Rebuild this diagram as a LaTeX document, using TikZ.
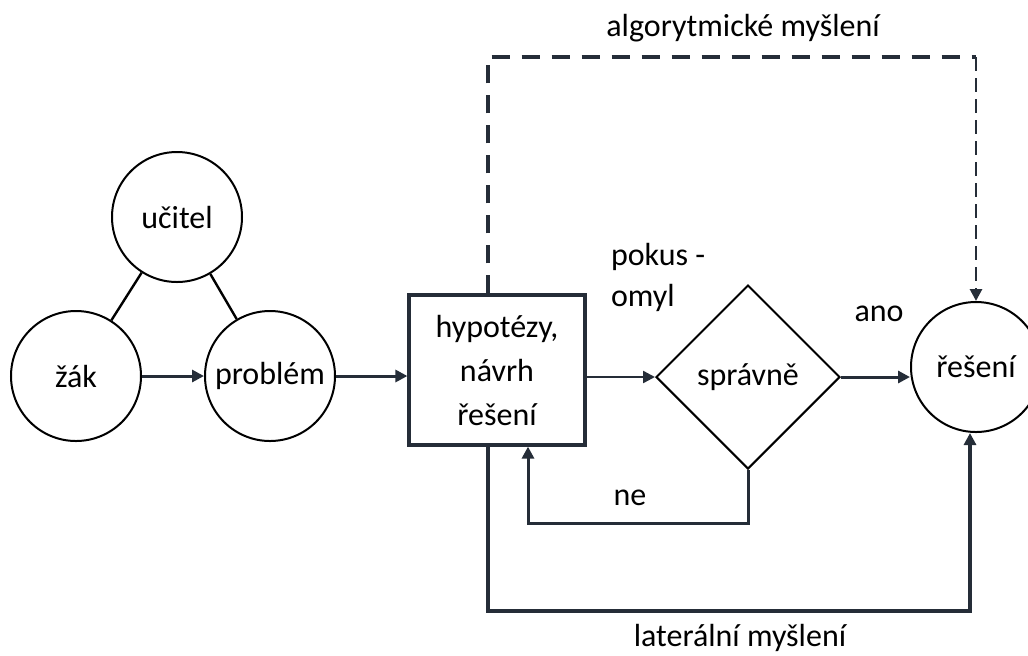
\documentclass[tikz,border=0pt]{standalone}
\usepackage{fontspec}
\setmainfont{Carlito}
\usepackage{tikz}
\usetikzlibrary{arrows.meta,shapes.geometric}
\definecolor{linka}{HTML}{252D38}

\begin{document}
\begin{tikzpicture}[x=0.5pt, y=-0.5pt,
  every node/.style={font=\fontsize{16}{22}\selectfont},
  kruh/.style={draw, shape=circle, line width=1pt, minimum size=65pt, inner sep=0pt},
  box/.style={draw=linka, line width=1.6pt, minimum width=88pt, minimum height=75pt, align=center, inner sep=0pt},
  kosoctverec/.style={draw, shape=diamond, line width=1pt, aspect=1, minimum size=92pt, inner sep=0pt},
  spoj/.style={draw=linka, line width=1.5pt, -{Triangle[length=6pt,width=6pt]}}]

\useasboundingbox (0,0) rectangle (1028,655);

\node[kruh] (ucitel) at (177,217) {učitel};
\node[kruh] (zak) at (76,376) {žák};
\node[kruh] (problem) at (270,376) {problém};
\node[box] (hyp) at (497,370) {hypotézy,\\návrh\\řešení};
\node[kosoctverec] (spravne) at (748,377) {správně};
\node[kruh] (reseni) at (976,367) {řešení};

\coordinate (algRoh) at (976,57);
\coordinate (neRoh) at (528,523);
\coordinate (latRoh) at (488,611);

\draw[line width=1.2pt] (ucitel) to (zak);
\draw[line width=1.2pt] (ucitel) to (problem);

\draw[spoj] (zak) to (problem);
\draw[spoj] (problem) to (problem -| hyp.west);
\draw[spoj, line width=1.2pt] (hyp.east |- spravne) to (spravne.west);
\draw[spoj] (spravne.east) to (spravne.east -| reseni.west);

% algoritmicka cesta
\draw[linka, line width=2pt, dash pattern=on 9pt off 6pt] ([xshift=-4.5pt]hyp.north) |- (algRoh);
\draw[spoj, line width=1.4pt, dash pattern=on 7pt off 3.5pt] (algRoh) to (reseni.north);

% smycka pokus - omyl
\draw[spoj] (spravne.south) |- (neRoh) to (neRoh |- hyp.south);

% lateralni cesta
\draw[spoj, line width=2pt] ([xshift=-4.5pt]hyp.south) |- (latRoh) -| ([xshift=-3pt]reseni.south);

\node at (743,28) {algorytmické myšlení};
\node[anchor=west, align=left, font=\fontsize{16}{20.5}\selectfont] (pokus) at (604,277) {pokus -\\omyl};
\node at (879,314) {ano};
\node at (630,498) {ne};
\node at (740,638) {laterální myšlení};

\end{tikzpicture}
\end{document}
